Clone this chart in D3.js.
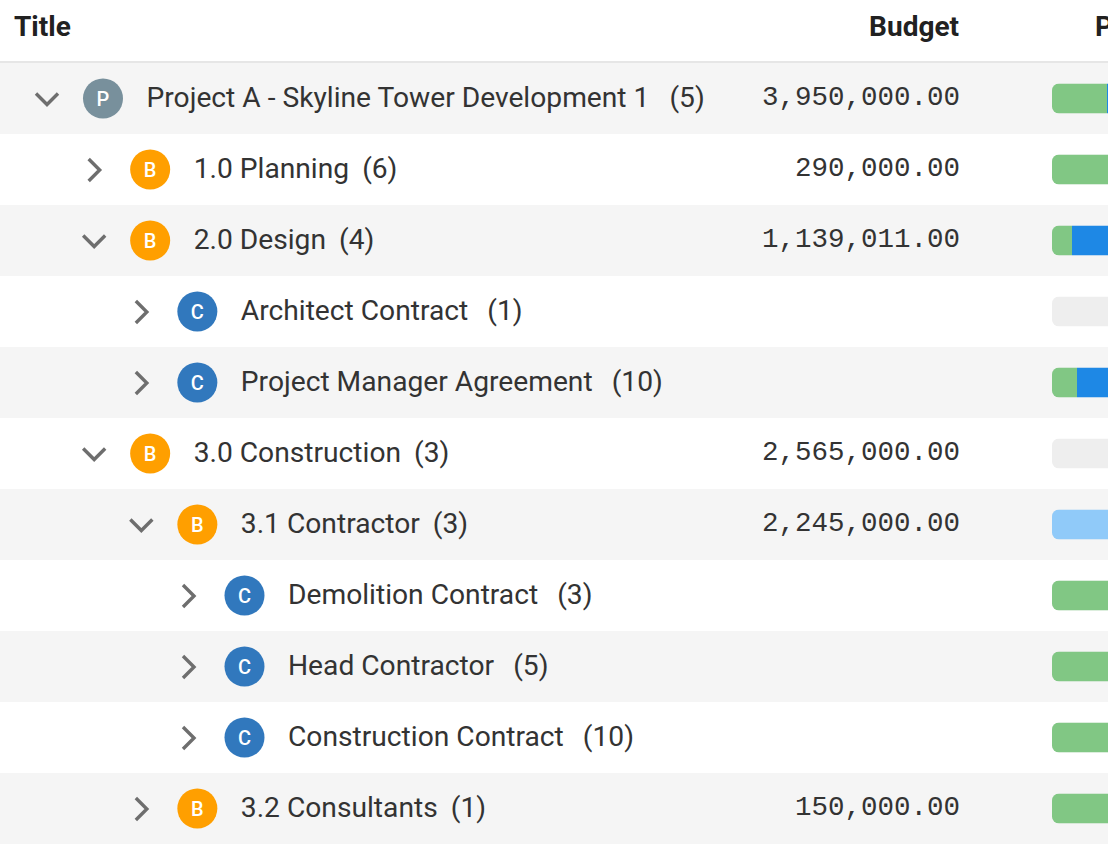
<!DOCTYPE html>
<html><head><meta charset="utf-8">
<script src="https://cdn.jsdelivr.net/npm/d3@7"></script>
<style>html,body{margin:0;padding:0;background:#fff;overflow:hidden}svg{display:block}</style>
</head><body>
<div id="c"></div>
<script>
const headers = ["Title", "Budget", "P"];
const titles = ["Project A - Skyline Tower Development 1","1.0 Planning","2.0 Design","Architect Contract","Project Manager Agreement","3.0 Construction","3.1 Contractor","Demolition Contract","Head Contractor","Construction Contract","3.2 Consultants"];
const counts = [5,6,4,1,10,3,3,3,5,10,1];
const levels = [0,1,1,2,2,1,2,3,3,3,2];
const expanded = [true,false,true,false,false,true,true,false,false,false,false];
const kinds = ["P","B","B","C","C","B","B","C","C","C","B"];
const budgets = [3950000,290000,1139011,null,null,2565000,2245000,null,null,null,150000];
const doneShare = [27.5,100,10,0,12.5,0,0,100,100,100,100];
const activeShare = [72.5,0,90,0,87.5,0,0,0,0,0,0];
const pendingShare = [0,0,0,0,0,0,100,0,0,0,0];
const kindColor = {P:"#78909c",B:"#ff9f00",C:"#3178bd"};
const kindGap = {P:20,B:13,C:19};

const W=1108,H=856,font="Roboto, sans-serif";
const svg=d3.select("#c").append("svg").attr("width",W).attr("height",H);
const y=d3.scaleBand().domain(d3.range(titles.length)).range([63,844]);
const indent=d3.scaleLinear().domain([0,3]).range([0,141.5]);
const pct=d3.scaleLinear().domain([0,100]).range([1052,1252]);
const fmt=d3.format(",.2f");
const defs=svg.append("defs");

svg.append("rect").attr("width",W).attr("height",H).attr("fill","#fff");
svg.append("rect").attr("x",0).attr("y",61).attr("width",W).attr("height",2).attr("fill","#e6e6e6");

const hdrX=[14,959,1095],hdrA=["start","end","start"];
svg.selectAll("text.h").data(headers).join("text").attr("class","h")
  .attr("x",(d,i)=>hdrX[i]).attr("y",35.5).attr("text-anchor",(d,i)=>hdrA[i])
  .attr("font-family",font).attr("font-weight",700).attr("font-size",28).attr("fill","#212121").text(d=>d);

const rows=svg.selectAll("g.r").data(titles).join("g").attr("class","r")
  .attr("transform",(d,i)=>`translate(0,${y(i)})`);
const h=y.bandwidth(),cy=h/2+0.5;
rows.append("rect").attr("width",W).attr("height",h).attr("fill",(d,i)=>i%2==0?"#f5f5f5":"#fff");

rows.append("path").attr("fill","none").attr("stroke","#6e6e6e").attr("stroke-width",3.4)
  .attr("d",(d,i)=>{const x=47+indent(levels[i]);
    return expanded[i]?`M${x-11},${cy-5.5}L${x},${cy+5.5}L${x+11},${cy-5.5}`
                      :`M${x-5.5},${cy-11}L${x+5.5},${cy}L${x-5.5},${cy+11}`;});

rows.append("circle").attr("cx",(d,i)=>103+indent(levels[i])).attr("cy",cy-0.5).attr("r",20)
  .attr("fill",(d,i)=>kindColor[kinds[i]]);
rows.append("text").attr("x",(d,i)=>103+indent(levels[i])).attr("y",cy+6.5).attr("text-anchor","middle")
  .attr("font-family",font).attr("font-weight",500).attr("font-size",20).attr("fill","#fff").text((d,i)=>kinds[i]);

const label=rows.append("text").attr("x",(d,i)=>146.5+indent(levels[i])).attr("y",cy+8)
  .attr("font-family",font).attr("font-size",28.2).attr("fill","#333").text(d=>d);
label.each(function(d,i){
  const e=d3.select(this.parentNode),end=+d3.select(this).attr("x")+this.getComputedTextLength();
  e.append("text").attr("x",end+kindGap[kinds[i]]).attr("y",cy+8).attr("font-family",font).attr("font-size",28.2)
   .attr("fill","#333").text(`(${counts[i]})`);
});

rows.append("text").attr("x",960).attr("y",cy+5.5).attr("text-anchor","end")
  .attr("font-family","'Liberation Mono', monospace").attr("font-size",27.5).attr("fill","#333")
  .text((d,i)=>budgets[i]==null?"":fmt(budgets[i]));

const bh=30,by=cy-15.5;
rows.each(function(d,i){
  const g=d3.select(this),id="clip"+i;
  defs.append("clipPath").attr("id",id).append("rect").attr("x",pct(0)).attr("y",by).attr("width",pct(100)-pct(0)).attr("height",bh).attr("rx",7);
  const b=g.append("g").attr("clip-path",`url(#${id})`);
  b.append("rect").attr("x",pct(0)).attr("y",by).attr("width",pct(100)-pct(0)).attr("height",bh).attr("fill","#eeeeee");
  let a=0;
  [[doneShare[i],"#81c784"],[activeShare[i],"#1e88e5"],[pendingShare[i],"#90caf9"]].forEach(([v,c])=>{
    if(v>0){b.append("rect").attr("x",pct(a)).attr("y",by).attr("width",pct(a+v)-pct(a)).attr("height",bh).attr("fill",c);a+=v;}
  });
});
</script>
</body></html>
